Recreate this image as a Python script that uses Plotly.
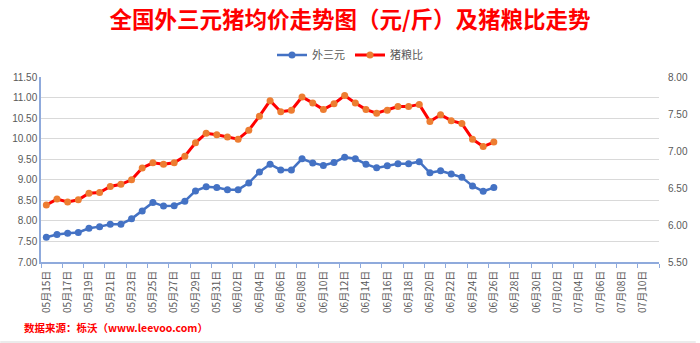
import plotly.graph_objects as go
import datetime as dt

# ---- data ----
start = dt.date(2020, 5, 15)
dates = [(start + dt.timedelta(days=i)) for i in range(58)]
date_labels = [f"{d.month:02d}月{d.day:02d}日" for d in dates]

wai_san_yuan = [7.60, 7.67, 7.70, 7.72, 7.82, 7.86, 7.92, 7.92, 8.05, 8.24,
                8.45, 8.36, 8.37, 8.48, 8.73, 8.83, 8.81, 8.76, 8.76, 8.92,
                9.19, 9.38, 9.24, 9.24, 9.51, 9.41, 9.35, 9.42, 9.55, 9.51,
                9.38, 9.29, 9.34, 9.39, 9.39, 9.44, 9.17, 9.22, 9.14, 9.06,
                8.85, 8.72, 8.81]

zhu_liang_bi = [6.27, 6.35, 6.31, 6.34, 6.43, 6.44, 6.52, 6.55, 6.61, 6.77,
                6.84, 6.82, 6.84, 6.93, 7.11, 7.24, 7.22, 7.19, 7.16, 7.28,
                7.47, 7.68, 7.53, 7.55, 7.73, 7.65, 7.56, 7.64, 7.75, 7.65,
                7.56, 7.51, 7.55, 7.60, 7.60, 7.63, 7.40, 7.49, 7.41, 7.37,
                7.16, 7.06, 7.12]

title_text = "全国外三元猪均价走势图（元/斤）及猪粮比走势"
source_text = "数据来源：栎沃（www.leevoo.com）"

CJK = "Noto Sans CJK SC"
NUM = "Liberation Sans, Arial"
AXIS_BLUE = "#8FAADC"
GRID = "#D9D9D9"
TICK_COLOR = "#595959"

fig = go.Figure()
fig.add_trace(go.Scatter(
    x=date_labels[:len(wai_san_yuan)], y=wai_san_yuan, name="外三元",
    mode="lines+markers",
    line=dict(color="#4472C4", width=2.5),
    marker=dict(color="#4472C4", size=7),
))
fig.add_trace(go.Scatter(
    x=date_labels[:len(zhu_liang_bi)], y=zhu_liang_bi, name="猪粮比",
    mode="lines+markers", yaxis="y2",
    line=dict(color="#FF0000", width=3),
    marker=dict(color="#ED7D31", size=7),
))

fig.update_layout(
    width=700, height=343,
    margin=dict(l=41, r=37, t=77, b=81),
    paper_bgcolor="white", plot_bgcolor="white",
    title=dict(text=title_text, x=0.5, xanchor="center", y=1 - 20 / 343,
               yanchor="middle",
               font=dict(family=CJK, size=22.5, color="#FF0000", weight="bold")),
    showlegend=True,
    legend=dict(orientation="h", x=0.5, xanchor="center", y=1.119,
                yanchor="middle", font=dict(family=CJK, size=11, color=TICK_COLOR),
                itemwidth=30, tracegroupgap=0),
    xaxis=dict(
        type="category", categoryorder="array", categoryarray=date_labels,
        range=[-0.5, len(date_labels) - 0.5],
        tickmode="linear", tick0=0, dtick=2, tickson="boundaries",
        ticks="outside", ticklen=4, tickcolor=AXIS_BLUE, tickwidth=1,
        tickangle=-90, tickfont=dict(family=CJK, size=10, color=TICK_COLOR),
        ticklabelstandoff=3,
        showline=True, linecolor=AXIS_BLUE, linewidth=1.5,
        showgrid=False, zeroline=False,
    ),
    yaxis=dict(
        range=[7.0, 11.5], dtick=0.5, tick0=7.0, tickformat=".2f",
        tickfont=dict(family=NUM, size=10, color=TICK_COLOR),
        showline=True, linecolor=AXIS_BLUE, linewidth=1.5,
        showgrid=True, gridcolor=GRID, gridwidth=1, zeroline=False,
        ticks="",
    ),
    yaxis2=dict(
        range=[5.5, 8.0], dtick=0.5, tick0=5.5, tickformat=".2f",
        overlaying="y", side="right",
        tickfont=dict(family=NUM, size=10, color=TICK_COLOR),
        showline=False, showgrid=False, zeroline=False, ticks="",
        ticklabelstandoff=8,
    ),
)

fig.add_annotation(
    text=source_text, xref="paper", yref="paper",
    x=(22 - 41) / 622, y=(262 - 327) / 185, xanchor="left", yanchor="middle",
    showarrow=False,
    font=dict(family=CJK, size=10.5, color="#FF0000", weight="bold"),
)

# faint grey strip along the bottom edge
fig.add_shape(type="rect", xref="paper", yref="paper",
              x0=-41 / 622, x1=(700 - 41) / 622,
              y0=(262 - 343) / 185, y1=(262 - 341) / 185,
              fillcolor="#EBEBEB", line=dict(width=0), layer="below")

fig.write_html("out.html")
